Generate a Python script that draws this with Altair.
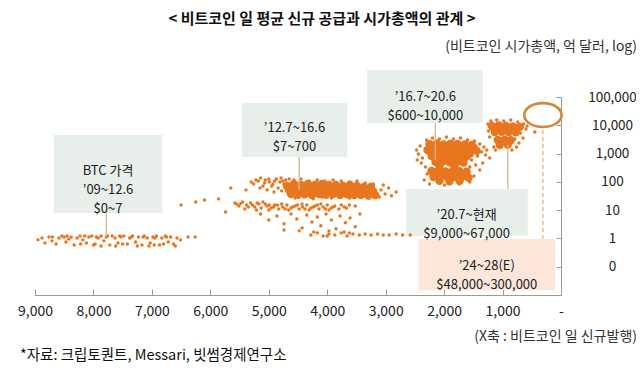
import altair as alt
import pandas as pd

FONT = "Noto Sans CJK KR"
ORANGE = "#e8761e"
AXIS_GRAY = "#9a9a9a"

# ---------------- data ----------------
# x: bitcoin daily new supply (BTC/day), y: market cap (100M USD, log)

# 2009 ~ 2012.6
p1_supply = [8950, 8880, 8830, 8760, 8710, 8640, 8590, 8540, 8500, 8470, 8420, 8380, 8330, 8280,
             8230, 8180, 8120, 8080, 8030, 7970, 7920, 7870, 7820, 7780, 7720, 7680, 7630, 7580,
             7530, 7480, 7420, 7380, 7330, 7280, 7230, 7170, 7130, 7080, 7030, 6980, 6920, 6870,
             6830, 6770, 6720, 6680, 6630, 6570, 6510, 6380, 6260,
             8700, 8450, 8150, 7950, 7760, 7550, 7350, 7150, 6950, 6750,
             7500, 7050, 6800, 7250, 8000, 8220, 7870, 7620, 6960, 6600]
p1_mcap = [0.89, 1.04, 0.69, 1.13, 0.82, 0.64, 1.04, 1.22, 1.13, 0.75, 0.96, 1.13, 0.59, 1.04,
           1.22, 0.89, 0.69, 1.13, 1.22, 0.64, 1.04, 1.22, 0.82, 1.13, 0.59, 1.22, 1.04, 0.69,
           1.13, 1.22, 0.64, 1.04, 1.22, 0.75, 1.13, 0.59, 1.22, 1.04, 0.69, 1.13, 1.22, 0.59,
           1.04, 1.22, 0.75, 1.13, 0.64, 1.04, 0.89, 1.13, 1.13,
           1.13, 1.22, 1.22, 1.13, 1.22, 1.22, 1.13, 1.13, 1.04, 1.13,
           0.64, 0.54, 0.64, 0.54, 0.59, 0.64, 0.54, 0.54, 0.59, 0.54]

# 2012.7 ~ 2016.6 (scattered dots)
p2_supply = [6500, 6250, 6100, 5860, 5740, 5650, 5390,
             5220, 5140, 5070, 5000, 4950, 4900, 4840, 4790, 4740, 5150, 5030, 4910, 4780, 4710,
             5300, 5260, 5180, 5100, 5060, 4990, 4930, 4870, 4810, 4760, 4700, 4650,
             4570, 4450, 4310, 4170, 4040, 3900, 3760, 3620, 3490, 3350, 3210,
             4550, 4400, 4240, 4090, 3930, 3780, 3620, 3450, 3280, 3110,
             3080, 3010, 2950, 2900, 2820, 3040,
             5580, 5510, 5450, 5380, 5310, 5240, 5170, 5100, 5030, 4960, 4900, 4830, 4760, 4690,
             4620, 4550, 4480, 4420, 4350, 4280, 4210, 4140, 4070, 4000, 3930, 3870, 3800, 3710,
             3620, 3520, 5000, 4660, 4310, 3970, 4780, 4430, 4110, 5410, 5210,
             5550, 5480, 5350, 5280, 5200, 5130, 5060, 4990, 4920, 4850, 4720, 4590, 4510, 4380,
             4240, 4170, 4030, 3900, 3760, 3670,
             5140, 5000, 4860, 4740, 4620, 4520, 4430, 4350, 4260, 4170, 4110, 4020, 3930, 3850,
             3780, 3690, 3610, 3520, 3440, 4480, 4230, 3970, 3710, 4740,
             4280, 4170, 4070, 3970, 3870, 3760, 3660, 3560, 3450, 3350, 3250, 3140, 3040, 2940,
             2820, 2710, 4000, 3620, 2580]
p2_mcap = [15.3, 19.5, 23, 25, 8.6, 61, 52,
           117, 137, 91, 127, 72, 108, 61, 137, 84, 61, 52, 44, 48, 117,
           99, 84, 108, 72, 117, 99, 84, 127, 99, 108, 72, 127,
           117, 127, 108, 117, 108, 117, 108, 99, 108, 91, 84,
           27, 29, 25, 29, 27, 29, 27, 29, 27, 29,
           52, 37, 61, 32, 44, 78,
           18, 14.1, 19.5, 15.3, 18, 13, 16.6, 19.5, 14.1, 12, 15.3, 11, 13, 15.3,
           12, 14.1, 11, 13, 15.3, 12, 14.1, 11, 13, 15.3, 12, 14.1, 11, 13,
           15.3, 14.1, 10.2, 10.2, 10.2, 10.2, 16.6, 16.6, 16.6, 11, 10.2,
           16.6, 17, 13, 15.3, 18, 12, 16.6, 15.3, 13, 15.3, 11, 13, 15.3, 11,
           13, 15.3, 11, 13, 15.3, 12,
           7.3, 4.5, 6.2, 3.3, 7.3, 4.9, 2.35, 6.7, 3.8, 5.7, 2.8, 7.3, 4.5, 2.2,
           6.2, 3.6, 5.3, 2.6, 7.3, 1.85, 1.7, 1.85, 1.7, 2.0,
           1.33, 1.57, 1.22, 1.44, 1.33, 1.57, 1.22, 1.44, 1.33, 1.44, 1.33, 1.44, 1.33, 1.33,
           1.44, 1.33, 1.22, 1.57, 1.33]

# 2016.7 ~ 2020.6 (scattered dots)
p3_supply = [2300, 2200, 2080, 1960, 1840, 1720, 1600, 1480, 1390, 1320, 1270, 1360, 1430, 1290,
             2470, 2440, 2410, 2370, 2460, 2390,
             1530, 1460, 1390, 1560, 2320, 2290, 2340, 1490, 1560, 2250, 1990, 1740, 1340, 1220]
p3_mcap = [3030, 3560, 3280, 3860, 3280, 3560, 3030, 2790, 2180, 1720, 1340, 1140, 823, 893,
           1340, 968, 1860, 699, 594, 466,
           594, 396, 263, 337, 337, 190, 117, 162, 99, 84, 78, 84, 466, 699]

# 2020.7 ~ now (scattered dots)
p4_supply = [1250, 1200, 1100, 980, 860, 740, 640, 600, 690, 650, 720, 760, 1240, 1220,
             1150, 1120, 840, 790, 447, 580]
p4_mcap = [11100, 14200, 15400, 14200, 15400, 13100, 11100, 7400, 5360, 3560, 2360, 1720,
           6290, 3860, 1720, 1340, 1340, 3280, 5800, 9440]

# dense cores of the clouds
core_supply = [4690, 4570, 4450, 4330, 4210, 4090, 3970, 3850, 3730, 3610, 3490, 3370, 3250,
               4656, 4535, 4415, 4295, 4175, 4054, 3934, 3814, 3694, 3574, 3453, 3333, 3213,
               4620, 4500, 4380, 4260, 4140, 4020, 3900, 3780, 3660, 3540, 3420, 3300, 3180,
               2251, 2130, 2010, 1890, 1770, 1649, 1529,
               2200, 2080, 1960, 1840, 1720, 1600, 1490,
               2285, 2165, 2044, 1924, 1804, 1684, 1563, 1443,
               2150, 2030, 1910, 1790, 1670, 1560,
               2216, 2096, 1976, 1855, 1735, 1615,
               2148, 2027, 1907, 1787, 1667,
               2079, 1821,
               2216, 2096, 1976, 1855, 1735, 1615,
               2130, 2010, 1890, 1770, 1650,
               2182, 2062, 1941, 1821, 1701, 1581,
               2079, 1907, 1735,
               1185, 1065, 945, 825, 704,
               1134, 1014, 893, 773,
               1082, 962, 859,
               1048, 911]
core_mcap = [72, 84, 78, 84, 78, 84, 78, 78, 72, 78, 72, 66, 66,
             52, 50, 54, 52, 50, 52, 54, 50, 52, 50, 48, 50, 46,
             37, 35, 37, 34, 37, 35, 37, 34, 36, 34, 35, 33, 34,
             2180, 2300, 2100, 2250, 2180, 2100, 2000,
             1700, 1750, 1680, 1720, 1700, 1650, 1600,
             1340, 1400, 1300, 1380, 1340, 1300, 1380, 1250,
             1040, 1060, 1000, 1050, 1020, 980,
             823, 860, 800, 840, 823, 780,
             505, 520, 490, 505, 480,
             365, 365,
             243, 250, 235, 245, 240, 230,
             190, 195, 185, 192, 188,
             149, 152, 145, 150, 148, 140,
             108, 105, 110,
             9440, 9800, 9440, 9200, 8800,
             5800, 5900, 5700, 5600,
             3030, 3100, 2950,
             2010, 2050]

# annotation boxes
box_x1 = [8680, 5460, 3320, 2650, 2440]
box_x2 = [6820, 3660, 1340, 570, 100]
box_y1 = [7.96, 758, 12000, 1.22, 0.015]
box_y2 = [4540, 61400, 899000, 56, 0.96]
box_kind = ["actual", "actual", "actual", "actual", "forecast"]

note_text = ["BTC 가격\n’09~12.6\n$0~7", "’12.7~16.6\n$7~700", "’16.7~20.6\n$600~10,000",
             "’20.7~현재\n$9,000~67,000", "’24~28(E)\n$48,000~300,000"]
note_supply = [7750, 4560, 2320, 1615, 1270]
note_mcap = [243, 7710, 104000, 6.5, 0.103]

# leader lines from boxes to clouds
lead_supply = [7780, 4480, 2150, 910]
lead_top = [7.96, 758, 12000, 2000]
lead_bottom = [1.16, 52, 600, 56]

# forecast marker (2024~28)
fc_supply = [310]
fc_mcap = [23000]
fc_top = [6800]
fc_bottom = [1.0]

x_ticks = [0, 1000, 2000, 3000, 4000, 5000, 6000, 7000, 8000, 9000]
y_ticks = [0.1, 1, 10, 100, 1000, 10000, 100000]

title_text = "< 비트코인 일 평균 신규 공급과 시가총액의 관계 >"
y_unit_text = "(비트코인 시가총액, 억 달러, log)"
x_unit_text = "(X축 : 비트코인 일 신규발행)"
source_text = "*자료: 크립토퀀트, Messari, 빗썸경제연구소"

# ---------------- tables ----------------
W, H = 526, 198
X_SCALE = alt.Scale(domain=[0, 9000], reverse=True, nice=False, zero=False)
Y_SCALE = alt.Scale(type="log", domain=[0.01, 100000], nice=False)

dots = pd.DataFrame({"supply": p1_supply + p2_supply + p3_supply + p4_supply,
                     "mcap": p1_mcap + p2_mcap + p3_mcap + p4_mcap})
cores = pd.DataFrame({"supply": core_supply, "mcap": core_mcap})
boxes = pd.DataFrame({"x1": box_x1, "x2": box_x2, "y1": box_y1, "y2": box_y2, "kind": box_kind})
notes = pd.DataFrame({"t": note_text, "supply": note_supply, "mcap": note_mcap})
leads = pd.DataFrame({"supply": lead_supply, "top": lead_top, "bottom": lead_bottom})
fc = pd.DataFrame({"supply": fc_supply, "mcap": fc_mcap, "top": fc_top, "bottom": fc_bottom})

x_axis_bottom = alt.Axis(orient="bottom", values=x_ticks,
                         labelExpr="datum.value == 0 ? '-' : format(datum.value, ',')",
                         ticks=False, domain=True, domainColor=AXIS_GRAY, domainWidth=1,
                         labelFont=FONT, labelFontSize=14, labelColor="#222",
                         labelPadding=9, labelFlush=False, labelOverlap=False,
                         grid=False, title=None)
y_axis_right = alt.Axis(orient="right", values=y_ticks,
                        labelExpr="datum.value < 0.5 ? '0' : format(datum.value, ',')",
                        ticks=False, domain=True, domainColor=AXIS_GRAY, domainWidth=1,
                        labelFont=FONT, labelFontSize=13.5, labelColor="#222",
                        labelAlign="center", labelPadding=51, labelFlush=False,
                        labelOverlap=False, grid=False, title=None)
x_axis_ticks = alt.Axis(orient="top", offset=-H, values=x_ticks, labels=False, domain=False,
                        ticks=True, tickSize=6, tickColor=AXIS_GRAY, grid=False, title=None)
y_axis_ticks = alt.Axis(orient="left", offset=-W, values=y_ticks, labels=False, domain=False,
                        ticks=True, tickSize=5, tickColor=AXIS_GRAY, grid=False, title=None)

box_layer = alt.Chart(boxes).mark_rect().encode(
    x=alt.X("x1:Q", scale=X_SCALE, axis=None), x2="x2:Q",
    y=alt.Y("y1:Q", scale=Y_SCALE, axis=None), y2="y2:Q",
    color=alt.Color("kind:N", scale=alt.Scale(domain=["actual", "forecast"],
                                              range=["#e8eeea", "#fce6da"]), legend=None),
)

dot_layer = alt.Chart(dots).mark_circle(size=12, color=ORANGE, opacity=1).encode(
    x=alt.X("supply:Q", scale=X_SCALE, axis=x_axis_bottom),
    y=alt.Y("mcap:Q", scale=Y_SCALE, axis=y_axis_right),
)

core_layer = alt.Chart(cores).mark_circle(size=70, color=ORANGE, opacity=1).encode(
    x=alt.X("supply:Q", scale=X_SCALE, axis=None),
    y=alt.Y("mcap:Q", scale=Y_SCALE, axis=None),
)

lead_layer = alt.Chart(leads).mark_rule(color="#dcb48c", strokeWidth=1.3).encode(
    x=alt.X("supply:Q", scale=X_SCALE, axis=x_axis_ticks),
    y=alt.Y("top:Q", scale=Y_SCALE, axis=y_axis_ticks), y2="bottom:Q",
)

dash_layer = alt.Chart(fc).mark_rule(color="#e9a870", strokeWidth=1.2, strokeDash=[4, 3]).encode(
    x=alt.X("supply:Q", scale=X_SCALE, axis=None),
    y=alt.Y("top:Q", scale=Y_SCALE, axis=None), y2="bottom:Q",
)

ellipse_layer = alt.Chart(fc).mark_point(
    shape="M -1 0 A 1 0.64 0 1 0 1 0 A 1 0.64 0 1 0 -1 0 Z",
    size=1400, filled=False, color="#d4863a", strokeWidth=2.6, opacity=1,
).encode(
    x=alt.X("supply:Q", scale=X_SCALE, axis=None),
    y=alt.Y("mcap:Q", scale=Y_SCALE, axis=None),
)

note_layer = alt.Chart(notes).mark_text(
    font=FONT, fontSize=13, color="#222", lineBreak="\n", lineHeight=19,
    align="center", baseline="middle",
).encode(
    x=alt.X("supply:Q", scale=X_SCALE, axis=None),
    y=alt.Y("mcap:Q", scale=Y_SCALE, axis=None),
    text="t:N",
)

def free_text(txt, px, py, size, align, weight="normal", color="#222"):
    return alt.Chart(pd.DataFrame({"t": [txt]})).mark_text(
        font=FONT, fontSize=size, fontWeight=weight, color=color, align=align,
        baseline="middle",
    ).encode(x=alt.value(px), y=alt.value(py), text="t:N")

title_layer = free_text(title_text, 287, -78, 15, "center", "bold", "#111")
yunit_layer = free_text(y_unit_text, 602, -50, 14, "right", color="#333")
xunit_layer = free_text(x_unit_text, 602, 240, 14, "right", color="#333")
source_layer = free_text(source_text, -15, 259, 14.5, "left", color="#111")

chart = alt.layer(
    box_layer, dot_layer, core_layer, lead_layer, dash_layer, ellipse_layer, note_layer,
    title_layer, yunit_layer, xunit_layer, source_layer,
).resolve_axis(x="independent", y="independent").properties(
    width=W, height=H,
    autosize=alt.AutoSizeParams(type="none"),
    padding={"left": 27, "top": 89, "right": 75, "bottom": 75},
    background="white",
).configure_view(stroke=None)

chart.save("out.html", embed_options={"renderer": "svg", "actions": False})
